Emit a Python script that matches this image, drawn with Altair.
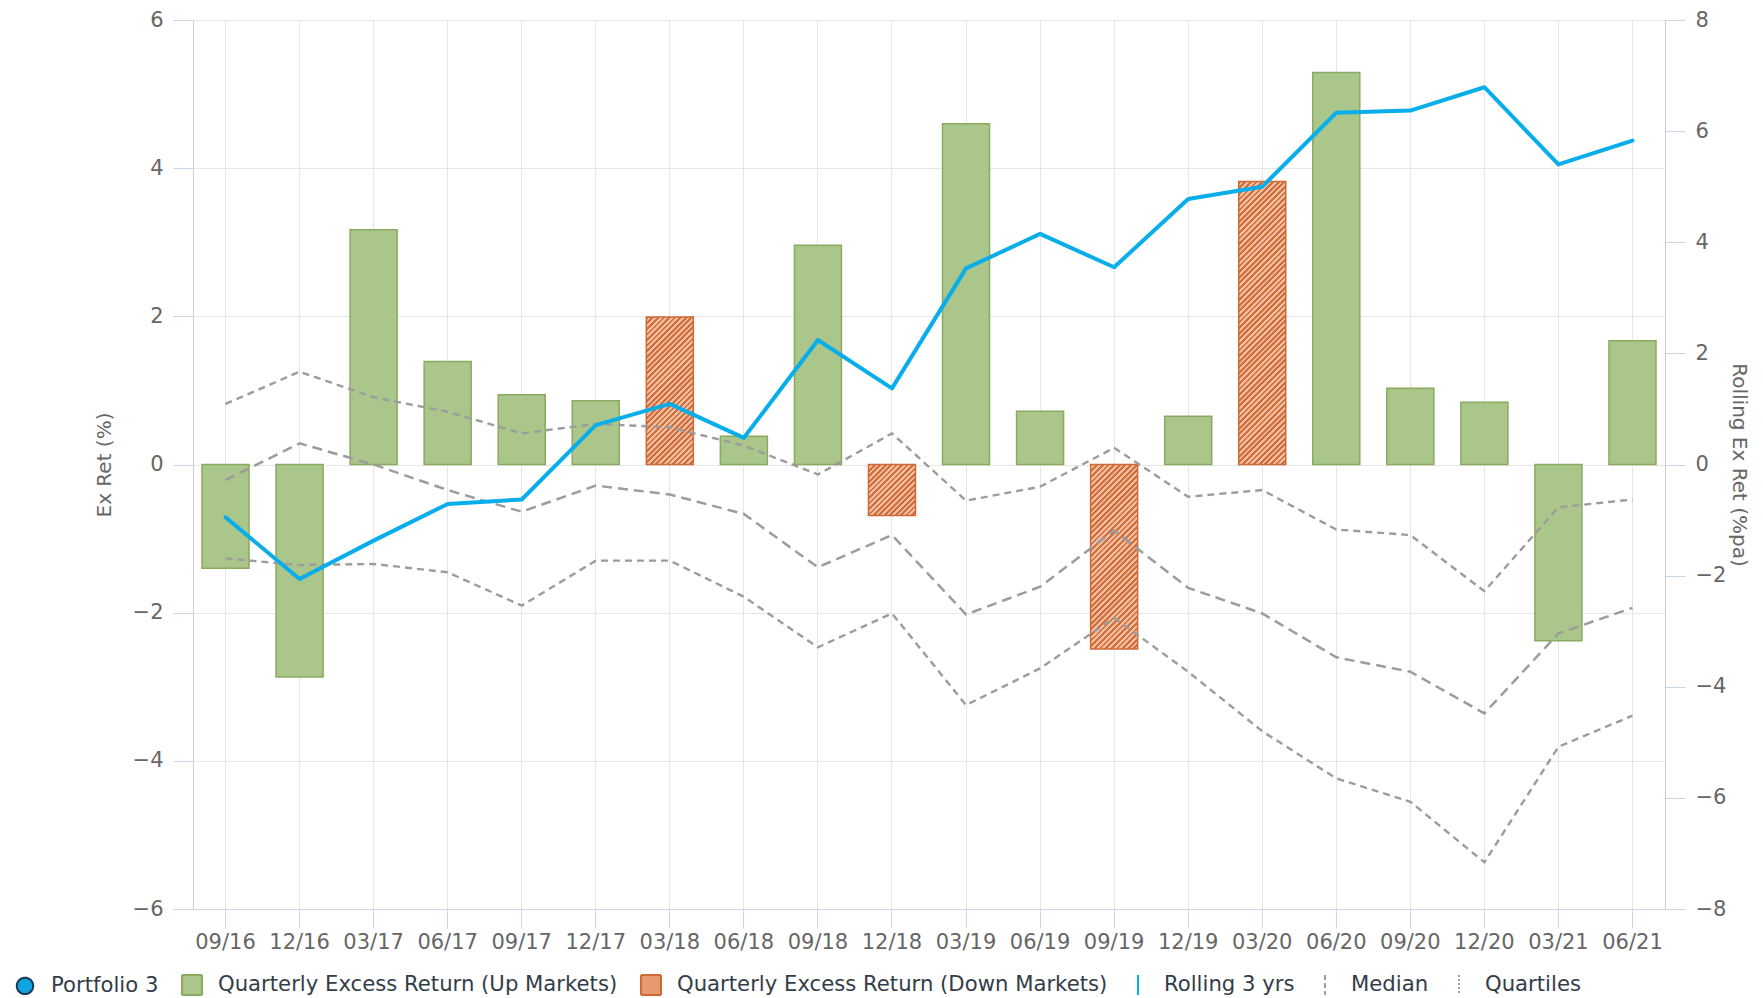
import altair as alt
import pandas as pd

# ---------------- data ----------------
dates = ["09/16", "12/16", "03/17", "06/17", "09/17", "12/17", "03/18", "06/18", "09/18", "12/18",
         "03/19", "06/19", "09/19", "12/19", "03/20", "06/20", "09/20", "12/20", "03/21", "06/21"]
excess = [-1.40, -2.87, 3.17, 1.39, 0.94, 0.86, 1.99, 0.38, 2.96, -0.69,
          4.60, 0.72, -2.49, 0.65, 3.82, 5.29, 1.03, 0.84, -2.38, 1.67]
market = ["Up", "Up", "Up", "Up", "Up", "Up", "Down", "Up", "Up", "Down",
          "Up", "Up", "Down", "Up", "Down", "Up", "Up", "Up", "Up", "Up"]
rolling = [-0.95, -2.06, -1.37, -0.71, -0.63, 0.71, 1.09, 0.48, 2.24, 1.37,
           3.53, 4.15, 3.55, 4.78, 5.00, 6.33, 6.37, 6.79, 5.40, 5.83]
upper_q = [1.09, 1.67, 1.21, 0.95, 0.56, 0.73, 0.67, 0.34, -0.18, 0.56,
           -0.65, -0.40, 0.30, -0.58, -0.46, -1.17, -1.27, -2.28, -0.77, -0.63]
median = [-0.28, 0.38, 0.00, -0.46, -0.85, -0.38, -0.54, -0.89, -1.85, -1.27,
          -2.70, -2.20, -1.19, -2.22, -2.68, -3.47, -3.73, -4.48, -3.04, -2.58]
lower_q = [-1.69, -1.81, -1.79, -1.94, -2.54, -1.73, -1.73, -2.38, -3.29, -2.68,
           -4.33, -3.67, -2.76, -3.73, -4.80, -5.65, -6.07, -7.16, -5.08, -4.52]

legend_labels = ["Portfolio 3", "Quarterly Excess Return (Up Markets)",
                 "Quarterly Excess Return (Down Markets)", "Rolling 3 yrs", "Median", "Quartiles"]

# ---------------- styling ----------------
FONT = "DejaVu Sans"
PLOT_W, PLOT_H = 1472, 889
TOP_PAD = 12
LEFT_DOMAIN = [-6, 6]
RIGHT_DOMAIN = [-8, 8]
GREEN_FILL, GREEN_STROKE = "#aac68a", "#89aa5f"
ORANGE_DARK, ORANGE_LIGHT, ORANGE_STROKE = "#d36f3c", "#f0bfa2", "#cf6a36"
BLUE = "#08aeea"
GRAY_DASH = "#9c9c9c"
TICK_COLOR = "#ccd6eb"
GRID_COLOR = "#e6e6e6"
LABEL_COLOR = "#666666"

bar_df = pd.DataFrame({"date": dates, "ret": excess, "market": market, "idx": list(range(len(dates)))})
line_df = pd.concat([
    pd.DataFrame({"date": dates, "val": rolling, "series": "Rolling", "idx": list(range(len(dates)))}),
    pd.DataFrame({"date": dates, "val": upper_q, "series": "Upper", "idx": list(range(len(dates)))}),
    pd.DataFrame({"date": dates, "val": median, "series": "Median", "idx": list(range(len(dates)))}),
    pd.DataFrame({"date": dates, "val": lower_q, "series": "Lower", "idx": list(range(len(dates)))}),
], ignore_index=True)

p_inner, p_outer = 0.365, 0.1215
step = PLOT_W / (len(dates) - p_inner + 2 * p_outer)
bar_w = step * (1 - p_inner)
px_per_unit = PLOT_H / (LEFT_DOMAIN[1] - LEFT_DOMAIN[0])


def hatch(v):
    w = bar_w
    h = max(abs(v) * px_per_unit, 1.0)
    d = w * w + h * h
    a = w * (w + h) / d
    b = h * (w + h) / d
    n = max(1, int(round((w + h) / 5.6)))
    stops = []
    for i in range(n):
        s, m, e = i / n, (i + 0.5) / n, (i + 1) / n
        stops += [{"offset": s, "color": ORANGE_DARK}, {"offset": m, "color": ORANGE_DARK},
                  {"offset": m, "color": ORANGE_LIGHT}, {"offset": e, "color": ORANGE_LIGHT}]
    return {"gradient": "linear", "x1": 0, "y1": 0, "x2": a, "y2": b, "stops": stops}


X = alt.X("date:N", sort=dates,
          scale=alt.Scale(paddingInner=p_inner, paddingOuter=p_outer),
          axis=alt.Axis(title=None, labelAngle=0, bandPosition=0.5, grid=True, gridColor=GRID_COLOR,
                        tickColor=TICK_COLOR, tickSize=19, domainColor=TICK_COLOR, labelPadding=3,
                        labelFontSize=21, labelColor=LABEL_COLOR, labelFont=FONT))

left_axis = alt.Axis(orient="left", values=[-6, -4, -2, 0, 2, 4, 6], grid=True, gridColor=GRID_COLOR,
                     tickSize=20, tickColor=TICK_COLOR, domain=False, labelPadding=10,
                     labelFontSize=21, labelColor=LABEL_COLOR, labelFont=FONT,
                     title="Ex Ret (%)", titlePadding=18, titleFontSize=20, titleColor=LABEL_COLOR,
                     titleFontWeight="normal", titleFont=FONT)
right_axis = alt.Axis(orient="right", values=[-8, -6, -4, -2, 0, 2, 4, 6, 8], grid=False,
                      tickSize=20, tickColor=TICK_COLOR, domain=False, labelPadding=10,
                      labelFontSize=21, labelColor=LABEL_COLOR, labelFont=FONT,
                      title="Rolling Ex Ret (%pa)", titlePadding=3, titleFontSize=20,
                      titleColor=LABEL_COLOR, titleFontWeight="normal", titleFont=FONT)

Y_LEFT = alt.Y("ret:Q", scale=alt.Scale(domain=LEFT_DOMAIN, nice=False), axis=left_axis)
Y_RIGHT = alt.Y("val:Q", scale=alt.Scale(domain=RIGHT_DOMAIN, nice=False), axis=right_axis)

bars_up = alt.Chart(bar_df).transform_filter("datum.market == 'Up'").mark_bar(
    fill=GREEN_FILL, stroke=GREEN_STROKE, strokeWidth=1.5).encode(x=X, y=Y_LEFT)

down_layers = []
for d, v, m in zip(dates, excess, market):
    if m == "Down":
        down_layers.append(
            alt.Chart(bar_df).transform_filter(f"datum.date == '{d}'").mark_bar(
                fill=hatch(v), stroke=ORANGE_STROKE, strokeWidth=1.5).encode(x=X, y=Y_LEFT))

bars = alt.layer(bars_up, *down_layers)

quart_line = alt.Chart(line_df).transform_filter("datum.series == 'Upper' || datum.series == 'Lower'").mark_line(
    color=GRAY_DASH, strokeWidth=2.4, strokeDash=[7, 5]).encode(
    x=X, y=Y_RIGHT, detail="series:N", order="idx:Q")
median_line = alt.Chart(line_df).transform_filter("datum.series == 'Median'").mark_line(
    color=GRAY_DASH, strokeWidth=2.5, strokeDash=[10, 6]).encode(x=X, y=Y_RIGHT, order="idx:Q")
rolling_line = alt.Chart(line_df).transform_filter("datum.series == 'Rolling'").mark_line(
    color=BLUE, strokeWidth=4, strokeJoin="round", strokeCap="round").encode(x=X, y=Y_RIGHT, order="idx:Q")

lines = alt.layer(quart_line, median_line, rolling_line)

# ----- legend (driven by an empty dataset with explicit scale domains) -----
circle_path = "M-0.82,0A0.82,0.82,0,1,1,0.82,0A0.82,0.82,0,1,1,-0.82,0Z"
square_path = "M-1,-1H1V1H-1Z"
vline_path = "M0,-1V1"
leg = alt.Legend(orient="none", legendX=-179, legendY=954, direction="horizontal", columns=6,
                 title=None, symbolSize=400, symbolStrokeWidth=2, symbolOpacity=1,
                 labelFontSize=21.2, labelFont=FONT,
                 labelColor="#333d48", labelOffset=15, columnPadding=19, labelLimit=0, padding=0)
legend_df = pd.DataFrame({"label": legend_labels})
legend_layer = alt.Chart(legend_df).transform_filter("false").mark_point(opacity=1).encode(
    fill=alt.Fill("label:N", scale=alt.Scale(domain=legend_labels,
                  range=["#0ea5e0", GREEN_FILL, "#e69a70", "transparent", "transparent", "transparent"]), legend=leg),
    stroke=alt.Stroke("label:N", scale=alt.Scale(domain=legend_labels,
                      range=["#1d3550", GREEN_STROKE, ORANGE_STROKE, BLUE, GRAY_DASH, GRAY_DASH]), legend=leg),
    shape=alt.Shape("label:N", scale=alt.Scale(domain=legend_labels,
                    range=[circle_path, square_path, square_path, vline_path, vline_path, vline_path]), legend=leg),
    strokeDash=alt.StrokeDash("label:N", scale=alt.Scale(domain=legend_labels,
                              range=[[1, 0], [1, 0], [1, 0], [1, 0], [5, 3], [2, 2]]), legend=leg),
)

chart = alt.layer(bars, lines, legend_layer).resolve_scale(y="independent").properties(
    width=PLOT_W, height=PLOT_H,
    padding={"left": 185, "top": TOP_PAD, "right": 90, "bottom": 89},
    autosize="none",
).configure(font=FONT).configure_view(stroke="#cccccc", strokeWidth=1)

chart.save("out.html", embed_options={"renderer": "svg", "actions": False})
